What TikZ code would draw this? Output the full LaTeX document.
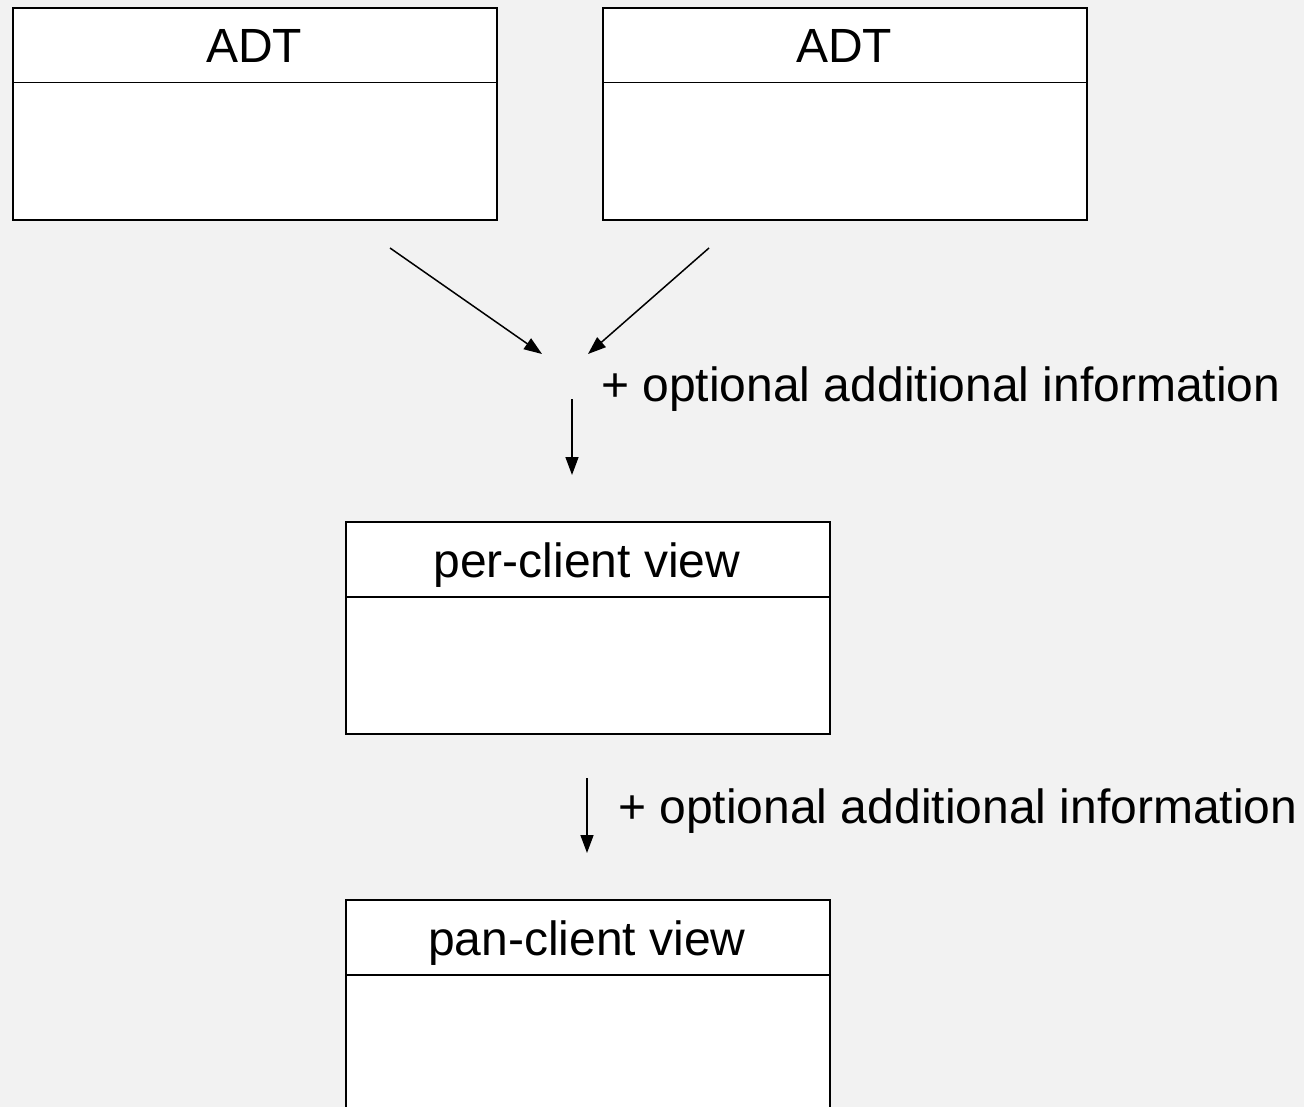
\documentclass[tikz,border=0pt]{standalone}
\usepackage{fontspec}
\setmainfont{Liberation Sans}
\usetikzlibrary{arrows.meta}
\definecolor{canvas}{HTML}{F2F2F2}
\begin{document}
\begin{tikzpicture}[x=1pt,y=-1pt,
  classbox/.style={draw=black,fill=white,line width=1.9pt,rectangle,inner sep=0pt,
    minimum width=484pt,minimum height=212pt,anchor=north west},
  divider/.style={draw=black,line width=1.9pt},
  title/.style={inner sep=0pt,anchor=base,font=\fontsize{48}{58}\selectfont},
  note/.style={inner sep=0pt,anchor=base west,font=\fontsize{48}{58}\selectfont},
  flow/.style={draw=black,line width=1.5pt,-{Triangle[length=18pt,width=13pt]}}]
% canvas
\fill[canvas] (0,0) rectangle (1304,1107);
\useasboundingbox (0,0) rectangle (1304,1107);
\clip (0,0) rectangle (1304,1107);

% the two ADT classes
\node[classbox] (adtA) at (12,7) {};
\draw[divider] (12,82.5) -- (496,82.5);
\node[title] (adtAname) at (254,63) {ADT};

\node[classbox] (adtB) at (602,7) {};
\draw[divider] (602,82.5) -- (1086,82.5);
\node[title] (adtBname) at (844,63) {ADT};

% per-client view
\node[classbox] (per) at (345,521) {};
\draw[divider] (345,597) -- (829,597);
\node[title] (pername) at (587,577) {per-client view};

% pan-client view (runs off the lower edge)
\node[classbox,minimum height=230pt] (pan) at (345,899) {};
\draw[divider] (345,975) -- (829,975);
\node[title] (panname) at (587,955) {pan-client view};

% connectors
\coordinate (a1) at (390,248);
\coordinate (a2) at (542,354);
\coordinate (b1) at (709,248);
\coordinate (b2) at (588,354);
\coordinate (c1) at (572,399);
\coordinate (c2) at (572,475);
\coordinate (d1) at (587,778);
\coordinate (d2) at (587,853);
\draw[flow] (a1) -- (a2);
\draw[flow] (b1) -- (b2);
\draw[flow] (c1) -- (c2);
\draw[flow] (d1) -- (d2);

\node[note] (info1) at (601,401) {+ optional additional information};
\node[note] (info2) at (618,823) {+ optional additional information};
\end{tikzpicture}
\end{document}
